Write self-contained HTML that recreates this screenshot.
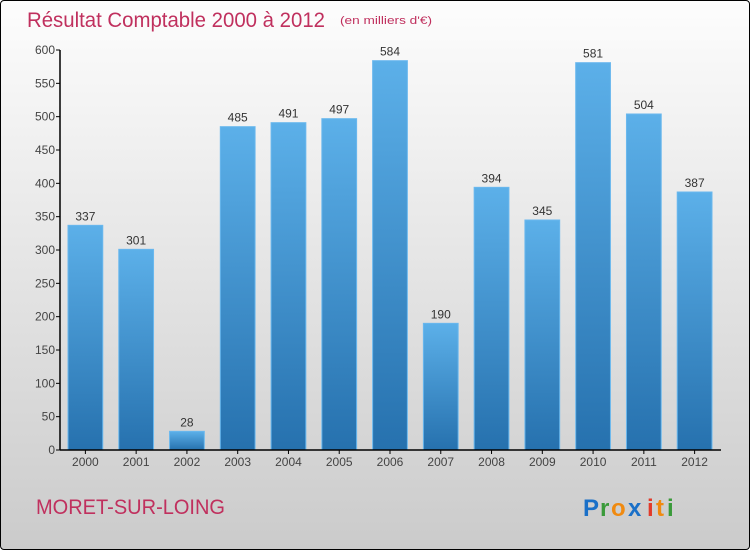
<!DOCTYPE html>
<html><head><meta charset="utf-8"><style>
body{margin:0;width:750px;height:550px;overflow:hidden;font-family:"Liberation Sans",sans-serif}
#wrap{position:absolute;left:0;top:0;width:748px;height:548px;border:1px solid #000;border-radius:4px;background:linear-gradient(#fdfdfd,#cbcbcb)}
</style></head><body>
<div id="wrap"></div>
<svg id="chart" width="750" height="550" style="position:absolute;left:0;top:0">
<defs>
<linearGradient id="bg" x1="0" y1="0" x2="0" y2="1"><stop offset="0" stop-color="#5cb0e9"/><stop offset="1" stop-color="#2671ae"/></linearGradient>
</defs>
<text x="27" y="27" font-size="21" fill="#c0305e" textLength="298" lengthAdjust="spacingAndGlyphs">Résultat Comptable 2000 à 2012</text>
<text x="340" y="24" font-size="11" fill="#c0305e" textLength="92" lengthAdjust="spacingAndGlyphs">(en milliers d'€)</text>
<text x="36" y="514" font-size="21" fill="#c0305e" textLength="189" lengthAdjust="spacingAndGlyphs">MORET-SUR-LOING</text>
<g font-size="24" font-weight="bold">
<text x="583" y="516" fill="#1a70c8">P</text><text x="600" y="516" fill="#3a9a3a">r</text><text x="611" y="516" fill="#f08a10">o</text><text x="628" y="516" fill="#1a70c8">x</text><text x="647" y="516" fill="#e23a2a">i</text><text x="656" y="516" fill="#f08a10">t</text><text x="667" y="516" fill="#3a9a3a">i</text>
</g>
<g id="plot"></g>
</svg>
<script>
const categories=["2000","2001","2002","2003","2004","2005","2006","2007","2008","2009","2010","2011","2012"];
const values=[337,301,28,485,491,497,584,190,394,345,581,504,387];
const yTicks=[0,50,100,150,200,250,300,350,400,450,500,550,600];
const x0=60,x1=720,yb=450,yt=50,ymax=600;
const band=(x1-x0)/categories.length;
function xs(i){return x0+i*band;}
function ys(v){return yb-(v/ymax)*(yb-yt);}
const g=document.getElementById('plot');const NS="http://www.w3.org/2000/svg";
function mk(t,a,txt){const e=document.createElementNS(NS,t);for(const k in a)e.setAttribute(k,a[k]);if(txt!==undefined)e.textContent=txt;g.appendChild(e);return e;}
yTicks.forEach(v=>{
const l=mk('line',{x1:x0-4,x2:x0,y1:ys(v),y2:ys(v),stroke:'#000'});


const t=mk('text',{x:x0-5,y:ys(v)+4,'font-size':12,fill:'#444','text-anchor':'end'},v);


});
categories.forEach((c,i)=>{
const v=values[i];const y=ys(v);
const r=mk('rect',{x:xs(i)+8,y:y,width:band-16,height:yb-y,fill:'url(#bg)',stroke:'#6ab8ee','stroke-width':1});


const t=mk('text',{x:xs(i)+band/2,y:y-5,'font-size':12,fill:'#333','text-anchor':'middle'},v);


const tk=mk('line',{x1:xs(i)+band/2,x2:xs(i)+band/2,y1:yb,y2:yb+4,stroke:'#000'});


const xl=mk('text',{x:xs(i)+band/2,y:yb+16,'font-size':12,fill:'#444','text-anchor':'middle'},c);


});
const ya=mk('line',{x1:x0,x2:x0,y1:yt,y2:yb,stroke:'#000','stroke-width':1.5});


const xa=mk('line',{x1:x0,x2:x1+1,y1:yb,y2:yb,stroke:'#000','stroke-width':1.5});


</script>
</body></html>
